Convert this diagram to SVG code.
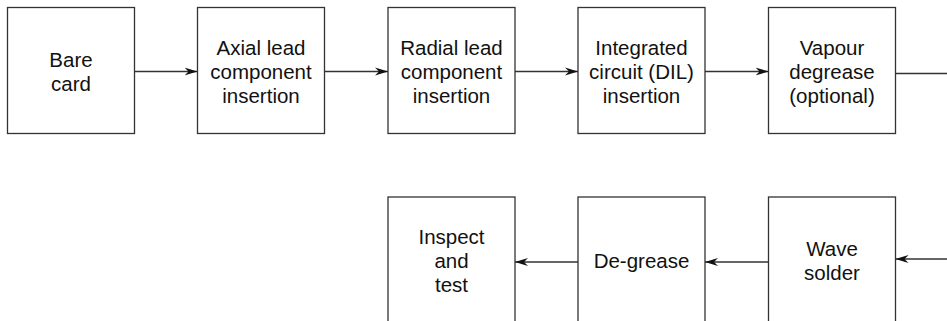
<svg xmlns="http://www.w3.org/2000/svg" width="947" height="321" viewBox="0 0 947 321">
<style>
.box{fill:#fff;stroke:#333;stroke-width:1.3}
.lbl{font-family:"Liberation Sans",Arial,sans-serif;font-size:20.5px;fill:#111;text-anchor:middle}
.con{stroke:#333;stroke-width:1.3;fill:none}
</style>
<defs>
<marker id="ah" viewBox="-13 -5 14 10" refX="0" refY="0" markerWidth="14" markerHeight="10" markerUnits="userSpaceOnUse" orient="auto">
<path d="M0,0 L-13,-4 L-9,0 L-13,4 Z" fill="#111"/>
</marker>
</defs>
<rect width="947" height="321" fill="#fff"/>
<g id="connectors">
<line class="con" x1="134.5" y1="71.5" x2="197.5" y2="71.5" marker-end="url(#ah)"/>
<line class="con" x1="324.5" y1="71.5" x2="388" y2="71.5" marker-end="url(#ah)"/>
<line class="con" x1="515" y1="71.5" x2="578" y2="71.5" marker-end="url(#ah)"/>
<line class="con" x1="705" y1="71.5" x2="768.5" y2="71.5" marker-end="url(#ah)"/>
<line class="con" x1="895.5" y1="73.5" x2="947" y2="73.5"/>
<line class="con" x1="947" y1="259" x2="895.5" y2="259" marker-end="url(#ah)"/>
<line class="con" x1="768.5" y1="262" x2="705" y2="262" marker-end="url(#ah)"/>
<line class="con" x1="578" y1="262" x2="515" y2="262" marker-end="url(#ah)"/>
</g>
<g id="bare-card">
<rect class="box" x="7.5" y="7.5" width="127" height="126"/>
<text class="lbl" x="71" y="67">Bare</text>
<text class="lbl" x="71" y="91">card</text>
</g>
<g id="axial-lead">
<rect class="box" x="197.5" y="7.5" width="127" height="126"/>
<text class="lbl" x="261" y="55">Axial lead</text>
<text class="lbl" x="261" y="79">component</text>
<text class="lbl" x="261" y="103">insertion</text>
</g>
<g id="radial-lead">
<rect class="box" x="388" y="7.5" width="127" height="126"/>
<text class="lbl" x="451.5" y="55">Radial lead</text>
<text class="lbl" x="451.5" y="79">component</text>
<text class="lbl" x="451.5" y="103">insertion</text>
</g>
<g id="integrated-circuit">
<rect class="box" x="578" y="7.5" width="127" height="126"/>
<text class="lbl" x="641.5" y="55">Integrated</text>
<text class="lbl" x="641.5" y="79">circuit (DIL)</text>
<text class="lbl" x="641.5" y="103">insertion</text>
</g>
<g id="vapour-degrease">
<rect class="box" x="768.5" y="7.5" width="127" height="126"/>
<text class="lbl" x="832" y="55">Vapour</text>
<text class="lbl" x="832" y="79">degrease</text>
<text class="lbl" x="832" y="103">(optional)</text>
</g>
<g id="inspect-test">
<rect class="box" x="388" y="197" width="127" height="128"/>
<text class="lbl" x="451.5" y="244">Inspect</text>
<text class="lbl" x="451.5" y="268">and</text>
<text class="lbl" x="451.5" y="292">test</text>
</g>
<g id="de-grease">
<rect class="box" x="578" y="197" width="127" height="128"/>
<text class="lbl" x="641.5" y="268">De-grease</text>
</g>
<g id="wave-solder">
<rect class="box" x="768.5" y="197" width="127" height="128"/>
<text class="lbl" x="832" y="256">Wave</text>
<text class="lbl" x="832" y="280">solder</text>
</g>
</svg>
